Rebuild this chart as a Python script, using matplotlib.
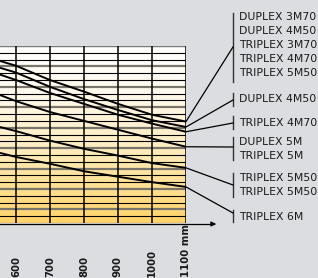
import matplotlib
matplotlib.use('Agg')
import matplotlib.pyplot as plt
import numpy as np
from matplotlib.colors import LinearSegmentedColormap
from matplotlib.lines import Line2D
from matplotlib.transforms import blended_transform_factory

W, H = 318, 278

# x positions (mm) where the curves were read, left edge is cut off at ~553
x_mm = [553, 600, 700, 800, 900, 1000, 1100]
tick_vals = [600, 700, 800, 900, 1000, 1100]
tick_labels = ['600', '700', '800', '900', '1000', '1100 mm']

# curve values in grid units (0 = bottom, 26 = top)
curve_1 = [23.8, 23.1, 21.0, 19.3, 17.5, 15.9, 14.9]
curve_2 = [22.8, 22.1, 20.0, 18.2, 16.6, 15.1, 14.1]
curve_3 = [21.8, 21.0, 19.1, 17.5, 15.9, 14.6, 13.4]
curve_4 = [18.8, 17.9, 16.3, 15.0, 13.7, 12.4, 11.2]
curve_5 = [14.1, 13.5, 12.1, 10.9, 9.9, 8.8, 8.1]
curve_6 = [10.3, 9.7, 8.7, 7.6, 6.8, 6.0, 5.3]
curves = [curve_1, curve_2, curve_3, curve_4, curve_5, curve_6]

groups = [
    ['DUPLEX 3M70', 'DUPLEX 4M50', 'TRIPLEX 3M70', 'TRIPLEX 4M70', 'TRIPLEX 5M50'],
    ['DUPLEX 4M50'],
    ['TRIPLEX 4M70'],
    ['DUPLEX 5M', 'TRIPLEX 5M'],
    ['TRIPLEX 5M50', 'TRIPLEX 5M50'],
    ['TRIPLEX 6M'],
]
# label block layout, pixels from top: first line centre, bracket span, leader target
label_y0 = [17, 99, 123, 142, 178, 217]
bracket = [(13, 82), (93, 106), (116, 129), (137, 160), (173, 197), (210, 222)]
leader_y = [47, 100, 123, 147, 185, 213]

bg = '#dcdde0'

fig = plt.figure(figsize=(W / 100, H / 100), dpi=100, facecolor=bg)


def fx(px):
    return px / W


def fy(py):
    return 1 - py / H


ax = fig.add_axes([0, fy(223), fx(186), (223 - 46) / H])
ax.set_xlim(553, 1100)
ax.set_ylim(0, 26)
ax.axis('off')

# background gradient
cmap = LinearSegmentedColormap.from_list(
    'g', [(0, '#ffd468'), (0.45, '#ffeec4'), (0.75, '#fffaee'), (1, '#ffffff')])
grad = np.linspace(0, 1, 256).reshape(-1, 1)
ax.imshow(grad, cmap=cmap, aspect='auto', origin='lower',
          extent=[553, 1100, 0, 26], zorder=0)

for i in range(27):
    if i % 3 == 2:
        ax.axhline(i, color='#7a756a', lw=1.6, zorder=1)
    else:
        ax.axhline(i, color='black', lw=0.8, zorder=1)
ax.axhline(26, color='#7a7a7a', lw=1.6, zorder=1)

for v in tick_vals:
    ax.axvline(v, color='black', lw=1.1, zorder=2)

for c in curves:
    ax.plot(x_mm, c, color='black', lw=1.4, zorder=3, solid_capstyle='butt')

# x axis arrow
fig.add_artist(Line2D([0, fx(214)], [fy(224), fy(224)], color='black', lw=0.9))
ax.annotate('', xy=(fx(219), fy(224)), xytext=(fx(210), fy(224)),
            xycoords='figure fraction', textcoords='figure fraction',
            arrowprops=dict(arrowstyle='-|>', color='black', lw=0.9,
                            mutation_scale=7))

trans = blended_transform_factory(ax.transData, fig.transFigure)
for v, lab in zip(tick_vals, tick_labels):
    ax.text(v, fy(277), lab, transform=trans, rotation=90, ha='center',
            va='bottom', fontsize=7.3, fontweight='bold', color='#1a1a1a',
            family='DejaVu Sans')

# labels, brackets and leaders
inv = fig.transFigure.inverted()
for c, labs, y0, br, ly in zip(curves, groups, label_y0, bracket, leader_y):
    for k, lab in enumerate(labs):
        fig.text(fx(239), fy(y0 + 14 * k), lab, ha='left', va='center',
                 fontsize=7.8, color='#1a1a1a', family='DejaVu Sans')
    fig.add_artist(Line2D([fx(233), fx(233)], [fy(br[0]), fy(br[1])],
                          color='#333333', lw=1.0))
    sx, sy = inv.transform(ax.transData.transform((1100, c[-1])))
    fig.add_artist(Line2D([sx, fx(233)], [sy, fy(ly)], color='black', lw=0.9))

fig.savefig('out.png', dpi=100, facecolor=bg)
